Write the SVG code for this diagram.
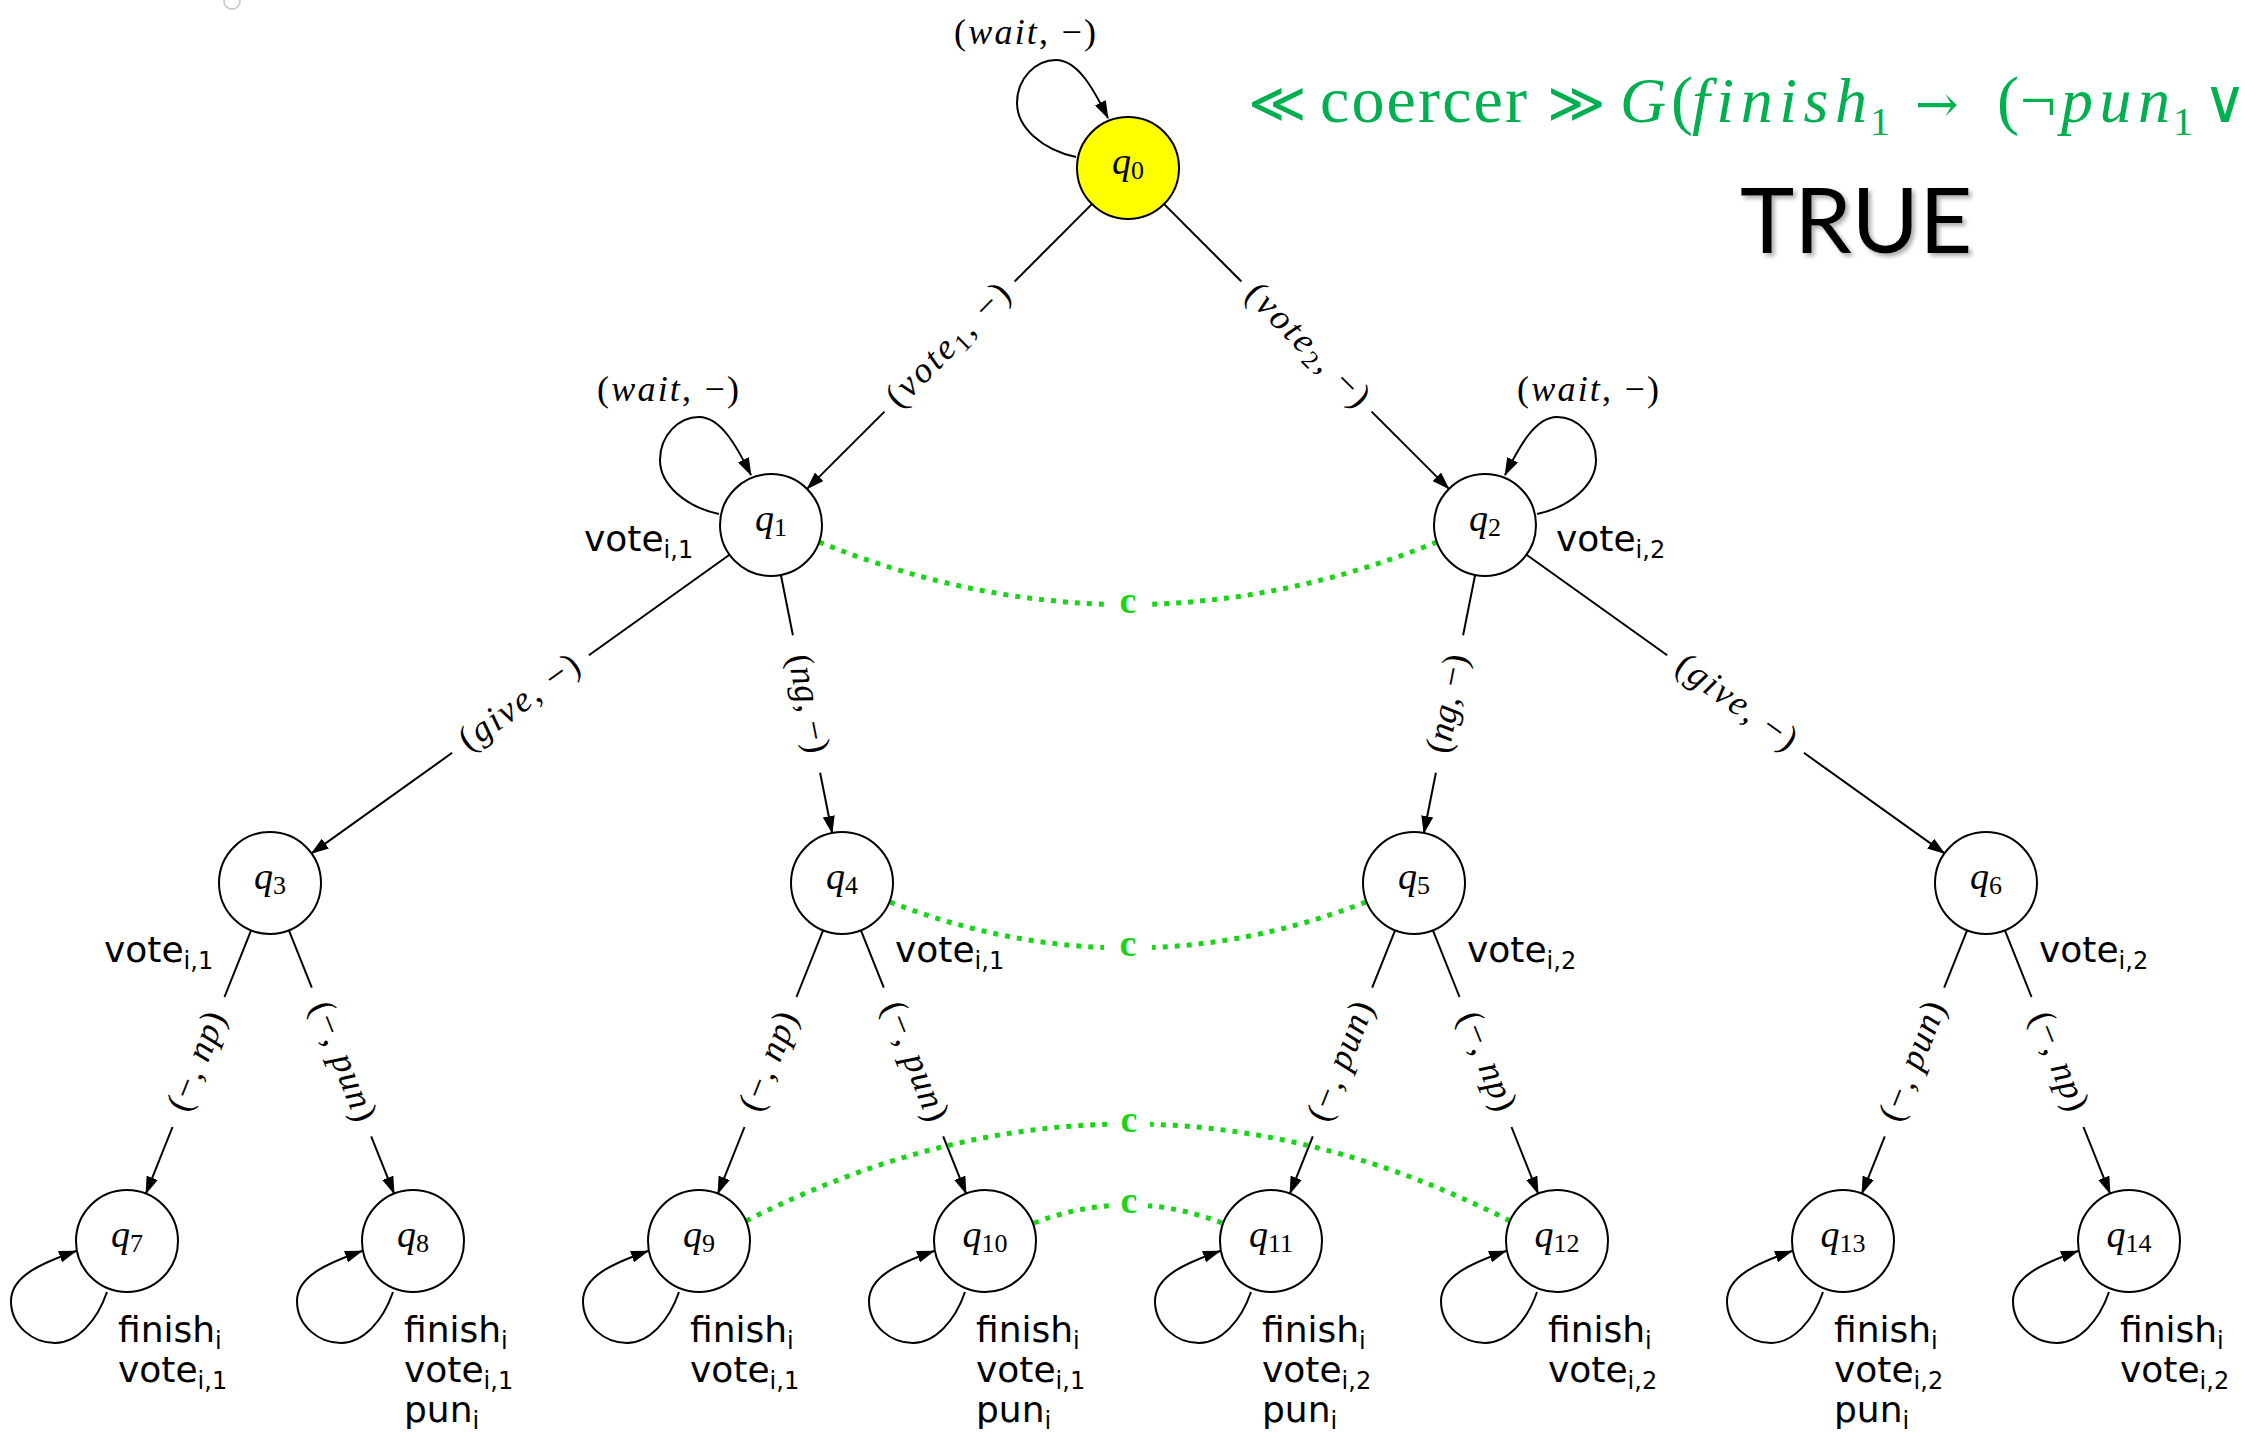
<svg xmlns="http://www.w3.org/2000/svg" width="2245" height="1440" viewBox="0 0 2245 1440">
<style>
.bg{fill:#fff}
.nd{fill:#fff;stroke:#000;stroke-width:2}
.q{font-family:"Liberation Serif",serif;font-size:38px;font-style:italic;text-anchor:middle;fill:#000}
.qs{font-style:normal;font-size:26px}
.e{stroke:#000;stroke-width:2;fill:none}
.lbl{font-family:"Liberation Serif",serif;font-size:36px;text-anchor:middle;fill:#000}
.it{font-style:italic}
.sb{font-size:25px}
.p{font-family:"DejaVu Sans",sans-serif;font-size:36px;fill:#000}
.ps{font-size:24px}
.dot{stroke:#19D419;stroke-width:5;fill:none;stroke-dasharray:5 7}
.c{font-family:"Liberation Serif",serif;font-weight:bold;font-size:38px;fill:#19D419;text-anchor:middle}
.f{font-family:"Liberation Serif","DejaVu Serif",serif;fill:#00B050}
</style>
<defs>
<marker id="ah" viewBox="0 0 18 12" refX="17" refY="6" markerWidth="18" markerHeight="12" markerUnits="userSpaceOnUse" orient="auto">
<path d="M0,0 L18,6 L0,12 Z" fill="#000"/>
</marker>
<filter id="sh" x="-10%" y="-10%" width="130%" height="140%">
<feDropShadow dx="3" dy="3" stdDeviation="2" flood-color="#777" flood-opacity="0.6"/>
</filter>
</defs>
<rect class="bg" x="0" y="0" width="2245" height="1440"/>
<circle cx="232" cy="1" r="8" fill="none" stroke="#c4c4c4" stroke-width="1.5"/>

<g id="connectors">
  <path class="e" marker-end="url(#ah)" d="M1076,157 C1043,150 1017,128 1017,103 C1017,78 1036,60 1056,60 C1078,60 1094,90 1108,118"/>
  <text class="lbl" x="1025" y="44" textLength="142">(<tspan class="it">wait</tspan>, −)</text>
  <path class="e" marker-end="url(#ah)" d="M719,514 C686,507 660,485 660,460 C660,435 679,417 699,417 C721,417 737,447 751,475"/>
  <text class="lbl" x="668" y="401" textLength="142">(<tspan class="it">wait</tspan>, −)</text>
  <path class="e" marker-end="url(#ah)" d="M1537,514 C1570,507 1596,485 1596,460 C1596,435 1577,417 1557,417 C1535,417 1519,447 1505,475"/>
  <text class="lbl" x="1588" y="401" textLength="142">(<tspan class="it">wait</tspan>, −)</text>

  <path class="e" marker-end="url(#ah)" d="M107,1292 C97,1321 77,1343 55,1343 C33,1343 11,1326 11,1301 C11,1276 42,1263 76,1251"/>
  <path class="e" marker-end="url(#ah)" d="M393,1292 C383,1321 363,1343 341,1343 C319,1343 297,1326 297,1301 C297,1276 328,1263 362,1251"/>
  <path class="e" marker-end="url(#ah)" d="M679,1292 C669,1321 649,1343 627,1343 C605,1343 583,1326 583,1301 C583,1276 614,1263 648,1251"/>
  <path class="e" marker-end="url(#ah)" d="M965,1292 C955,1321 935,1343 913,1343 C891,1343 869,1326 869,1301 C869,1276 900,1263 934,1251"/>
  <path class="e" marker-end="url(#ah)" d="M1251,1292 C1241,1321 1221,1343 1199,1343 C1177,1343 1155,1326 1155,1301 C1155,1276 1186,1263 1220,1251"/>
  <path class="e" marker-end="url(#ah)" d="M1537,1292 C1527,1321 1507,1343 1485,1343 C1463,1343 1441,1326 1441,1301 C1441,1276 1472,1263 1506,1251"/>
  <path class="e" marker-end="url(#ah)" d="M1823,1292 C1813,1321 1793,1343 1771,1343 C1749,1343 1727,1326 1727,1301 C1727,1276 1758,1263 1792,1251"/>
  <path class="e" marker-end="url(#ah)" d="M2109,1292 C2099,1321 2079,1343 2057,1343 C2035,1343 2013,1326 2013,1301 C2013,1276 2044,1263 2078,1251"/>

  <g id="e-q0-q1">
    <line class="e" x1="1091.9" y1="204.1" x2="1014.6" y2="281.5"/>
    <line class="e" x1="884.5" y1="411.6" x2="807.1" y2="488.9" marker-end="url(#ah)"/>
    <text class="lbl" transform="translate(949.5,346.5) rotate(-45)" x="0" y="9" textLength="160">(<tspan class="it">vote</tspan><tspan class="sb" dy="6">1</tspan><tspan dy="-6">, −)</tspan></text>
  </g>
  <g id="e-q0-q2">
    <line class="e" x1="1164.1" y1="204.1" x2="1241.4" y2="281.5"/>
    <line class="e" x1="1371.6" y1="411.6" x2="1448.9" y2="488.9" marker-end="url(#ah)"/>
    <text class="lbl" transform="translate(1306.5,346.5) rotate(45)" x="0" y="9" textLength="160">(<tspan class="it">vote</tspan><tspan class="sb" dy="6">2</tspan><tspan dy="-6">, −)</tspan></text>
  </g>
  <g id="e-q1-q3">
    <line class="e" x1="729.5" y1="554.7" x2="588.9" y2="655.2"/>
    <line class="e" x1="452.2" y1="752.8" x2="311.5" y2="853.4" marker-end="url(#ah)"/>
    <text class="lbl" transform="translate(520.5,704) rotate(-35.55)" x="0" y="9" textLength="140">(<tspan class="it">give</tspan>, −)</text>
  </g>
  <g id="e-q1-q4">
    <line class="e" x1="780.9" y1="575" x2="792.9" y2="635.3"/>
    <line class="e" x1="820.1" y1="772.7" x2="832.1" y2="833" marker-end="url(#ah)"/>
    <text class="lbl" transform="translate(806.5,704) rotate(78.78)" x="0" y="9" textLength="100">(<tspan class="it">ng</tspan>, −)</text>
  </g>
  <g id="e-q2-q5">
    <line class="e" x1="1475.1" y1="575" x2="1463.1" y2="635.3"/>
    <line class="e" x1="1435.9" y1="772.7" x2="1423.9" y2="833" marker-end="url(#ah)"/>
    <text class="lbl" transform="translate(1449.5,704) rotate(-78.78)" x="0" y="9" textLength="100">(<tspan class="it">ng</tspan>, −)</text>
  </g>
  <g id="e-q2-q6">
    <line class="e" x1="1526.5" y1="554.7" x2="1667.2" y2="655.2"/>
    <line class="e" x1="1803.9" y1="752.8" x2="1944.5" y2="853.4" marker-end="url(#ah)"/>
    <text class="lbl" transform="translate(1735.5,704) rotate(35.55)" x="0" y="9" textLength="140">(<tspan class="it">give</tspan>, −)</text>
  </g>

  <g id="e-q3-q7">
    <line class="e" x1="251.08" y1="930.36" x2="224.47" y2="997"/>
    <line class="e" x1="172.53" y1="1127" x2="145.92" y2="1193.64" marker-end="url(#ah)"/>
    <text class="lbl" transform="translate(198.5,1062) rotate(-68.23)" x="0" y="9" textLength="104">(−, <tspan class="it">np</tspan>)</text>
  </g>
  <g id="e-q3-q8">
    <line class="e" x1="288.92" y1="930.36" x2="311.82" y2="987.71"/>
    <line class="e" x1="371.18" y1="1136.29" x2="394.08" y2="1193.64" marker-end="url(#ah)"/>
    <text class="lbl" transform="translate(341.5,1062) rotate(68.23)" x="0" y="9" textLength="126">(−, <tspan class="it">pun</tspan>)</text>
  </g>
  <g id="e-q4-q9">
    <line class="e" x1="823.08" y1="930.36" x2="796.47" y2="997"/>
    <line class="e" x1="744.53" y1="1127" x2="717.92" y2="1193.64" marker-end="url(#ah)"/>
    <text class="lbl" transform="translate(770.5,1062) rotate(-68.23)" x="0" y="9" textLength="104">(−, <tspan class="it">np</tspan>)</text>
  </g>
  <g id="e-q4-q10">
    <line class="e" x1="860.92" y1="930.36" x2="883.82" y2="987.71"/>
    <line class="e" x1="943.18" y1="1136.29" x2="966.08" y2="1193.64" marker-end="url(#ah)"/>
    <text class="lbl" transform="translate(913.5,1062) rotate(68.23)" x="0" y="9" textLength="126">(−, <tspan class="it">pun</tspan>)</text>
  </g>
  <g id="e-q5-q11">
    <line class="e" x1="1395.08" y1="930.36" x2="1372.18" y2="987.71"/>
    <line class="e" x1="1312.82" y1="1136.29" x2="1289.92" y2="1193.64" marker-end="url(#ah)"/>
    <text class="lbl" transform="translate(1342.5,1062) rotate(-68.23)" x="0" y="9" textLength="126">(−, <tspan class="it">pun</tspan>)</text>
  </g>
  <g id="e-q5-q12">
    <line class="e" x1="1432.92" y1="930.36" x2="1459.53" y2="997"/>
    <line class="e" x1="1511.47" y1="1127" x2="1538.08" y2="1193.64" marker-end="url(#ah)"/>
    <text class="lbl" transform="translate(1485.5,1062) rotate(68.23)" x="0" y="9" textLength="104">(−, <tspan class="it">np</tspan>)</text>
  </g>
  <g id="e-q6-q13">
    <line class="e" x1="1967.08" y1="930.36" x2="1944.18" y2="987.71"/>
    <line class="e" x1="1884.82" y1="1136.29" x2="1861.92" y2="1193.64" marker-end="url(#ah)"/>
    <text class="lbl" transform="translate(1914.5,1062) rotate(-68.23)" x="0" y="9" textLength="126">(−, <tspan class="it">pun</tspan>)</text>
  </g>
  <g id="e-q6-q14">
    <line class="e" x1="2004.92" y1="930.36" x2="2031.53" y2="997"/>
    <line class="e" x1="2083.47" y1="1127" x2="2110.08" y2="1193.64" marker-end="url(#ah)"/>
    <text class="lbl" transform="translate(2057.5,1062) rotate(68.23)" x="0" y="9" textLength="104">(−, <tspan class="it">np</tspan>)</text>
  </g>

  <g id="c-q1-q2">
    <path class="dot" d="M819,542 Q962.5,600 1106,604.2"/>
    <path class="dot" d="M1437,542 Q1293.5,600 1150,604.2"/>
    <text class="c" x="1128" y="613">c</text>
  </g>
  <g id="c-q4-q5">
    <path class="dot" d="M890,902 Q997,943.4 1104,947.5"/>
    <path class="dot" d="M1366,902 Q1259,943.4 1152,947.5"/>
    <text class="c" x="1128" y="956">c</text>
  </g>
  <g id="c-q9-q12">
    <path class="dot" d="M746,1221 Q926.5,1129.3 1107,1124.3"/>
    <path class="dot" d="M1510,1221 Q1329.5,1129.3 1150,1124.3"/>
    <text class="c" x="1129" y="1132">c</text>
  </g>
  <g id="c-q10-q11">
    <path class="dot" d="M1034,1223 Q1072,1208.4 1110,1205.7"/>
    <path class="dot" d="M1222,1223 Q1184,1208.4 1148,1205.7"/>
    <text class="c" x="1129" y="1213">c</text>
  </g>
</g>

<g id="q0"><circle class="nd" cx="1128" cy="168" r="51" style="fill:#FFFF00"/><text class="q" x="1128" y="174">q<tspan class="qs" dy="5">0</tspan></text></g>
<g id="q1"><circle class="nd" cx="771" cy="525" r="51"/><text class="q" x="771" y="531">q<tspan class="qs" dy="5">1</tspan></text>
  <text class="p" x="584" y="551">vote<tspan class="ps" dy="7">i,1</tspan></text></g>
<g id="q2"><circle class="nd" cx="1485" cy="525" r="51"/><text class="q" x="1485" y="531">q<tspan class="qs" dy="5">2</tspan></text>
  <text class="p" x="1556" y="551">vote<tspan class="ps" dy="7">i,2</tspan></text></g>
<g id="q3"><circle class="nd" cx="270" cy="883" r="51"/><text class="q" x="270" y="889">q<tspan class="qs" dy="5">3</tspan></text>
  <text class="p" x="104" y="962">vote<tspan class="ps" dy="7">i,1</tspan></text></g>
<g id="q4"><circle class="nd" cx="842" cy="883" r="51"/><text class="q" x="842" y="889">q<tspan class="qs" dy="5">4</tspan></text>
  <text class="p" x="895" y="962">vote<tspan class="ps" dy="7">i,1</tspan></text></g>
<g id="q5"><circle class="nd" cx="1414" cy="883" r="51"/><text class="q" x="1414" y="889">q<tspan class="qs" dy="5">5</tspan></text>
  <text class="p" x="1467" y="962">vote<tspan class="ps" dy="7">i,2</tspan></text></g>
<g id="q6"><circle class="nd" cx="1986" cy="883" r="51"/><text class="q" x="1986" y="889">q<tspan class="qs" dy="5">6</tspan></text>
  <text class="p" x="2039" y="962">vote<tspan class="ps" dy="7">i,2</tspan></text></g>

<g id="q7"><circle class="nd" cx="127" cy="1241" r="51"/><text class="q" x="127" y="1247">q<tspan class="qs" dy="5">7</tspan></text>
  <text class="p" x="118" y="1342">finish<tspan class="ps" dy="7">i</tspan></text>
  <text class="p" x="118" y="1382">vote<tspan class="ps" dy="7">i,1</tspan></text></g>
<g id="q8"><circle class="nd" cx="413" cy="1241" r="51"/><text class="q" x="413" y="1247">q<tspan class="qs" dy="5">8</tspan></text>
  <text class="p" x="404" y="1342">finish<tspan class="ps" dy="7">i</tspan></text>
  <text class="p" x="404" y="1382">vote<tspan class="ps" dy="7">i,1</tspan></text>
  <text class="p" x="404" y="1422">pun<tspan class="ps" dy="7">i</tspan></text></g>
<g id="q9"><circle class="nd" cx="699" cy="1241" r="51"/><text class="q" x="699" y="1247">q<tspan class="qs" dy="5">9</tspan></text>
  <text class="p" x="690" y="1342">finish<tspan class="ps" dy="7">i</tspan></text>
  <text class="p" x="690" y="1382">vote<tspan class="ps" dy="7">i,1</tspan></text></g>
<g id="q10"><circle class="nd" cx="985" cy="1241" r="51"/><text class="q" x="985" y="1247">q<tspan class="qs" dy="5">10</tspan></text>
  <text class="p" x="976" y="1342">finish<tspan class="ps" dy="7">i</tspan></text>
  <text class="p" x="976" y="1382">vote<tspan class="ps" dy="7">i,1</tspan></text>
  <text class="p" x="976" y="1422">pun<tspan class="ps" dy="7">i</tspan></text></g>
<g id="q11"><circle class="nd" cx="1271" cy="1241" r="51"/><text class="q" x="1271" y="1247">q<tspan class="qs" dy="5">11</tspan></text>
  <text class="p" x="1262" y="1342">finish<tspan class="ps" dy="7">i</tspan></text>
  <text class="p" x="1262" y="1382">vote<tspan class="ps" dy="7">i,2</tspan></text>
  <text class="p" x="1262" y="1422">pun<tspan class="ps" dy="7">i</tspan></text></g>
<g id="q12"><circle class="nd" cx="1557" cy="1241" r="51"/><text class="q" x="1557" y="1247">q<tspan class="qs" dy="5">12</tspan></text>
  <text class="p" x="1548" y="1342">finish<tspan class="ps" dy="7">i</tspan></text>
  <text class="p" x="1548" y="1382">vote<tspan class="ps" dy="7">i,2</tspan></text></g>
<g id="q13"><circle class="nd" cx="1843" cy="1241" r="51"/><text class="q" x="1843" y="1247">q<tspan class="qs" dy="5">13</tspan></text>
  <text class="p" x="1834" y="1342">finish<tspan class="ps" dy="7">i</tspan></text>
  <text class="p" x="1834" y="1382">vote<tspan class="ps" dy="7">i,2</tspan></text>
  <text class="p" x="1834" y="1422">pun<tspan class="ps" dy="7">i</tspan></text></g>
<g id="q14"><circle class="nd" cx="2129" cy="1241" r="51"/><text class="q" x="2129" y="1247">q<tspan class="qs" dy="5">14</tspan></text>
  <text class="p" x="2120" y="1342">finish<tspan class="ps" dy="7">i</tspan></text>
  <text class="p" x="2120" y="1382">vote<tspan class="ps" dy="7">i,2</tspan></text></g>

<g id="formula">
  <text class="f" x="1248" y="122" style="font-family:'DejaVu Serif',serif;font-size:56px">≪</text>
  <text class="f" x="1320" y="122" font-size="66" textLength="207">coercer</text>
  <text class="f" x="1547" y="122" style="font-family:'DejaVu Serif',serif;font-size:56px">≫</text>
  <text class="f" x="1620" y="122" font-size="64"><tspan font-style="italic">G</tspan><tspan x="1671" font-size="66">(</tspan></text>
  <text class="f" x="1692" y="122" font-size="64" font-style="italic" textLength="175">finish</text>
  <text class="f" x="1870" y="135" font-size="40">1</text>
  <text class="f" x="1915" y="122" style="font-family:'DejaVu Serif',serif;font-size:52px">→</text>
  <text class="f" x="1997" y="122" font-size="66">(</text>
  <text class="f" x="2020" y="122" font-size="64">¬</text>
  <text class="f" x="2061" y="122" font-size="64" font-style="italic" textLength="109">pun</text>
  <text class="f" x="2173" y="135" font-size="40">1</text>
  <text class="f" x="2203" y="122" style="font-family:'DejaVu Serif',serif;font-size:60px">∨</text>
</g>
<text id="result" x="1740" y="253" font-family="Lato, 'Open Sans', sans-serif" font-size="92" fill="#000" filter="url(#sh)">TRUE</text>
</svg>
